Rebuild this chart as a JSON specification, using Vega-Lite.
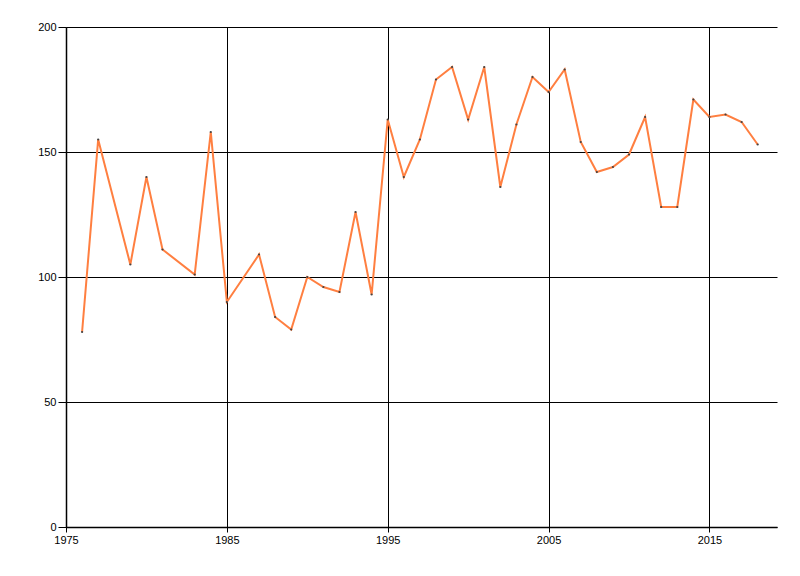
{
  "$schema": "https://vega.github.io/schema/vega-lite/v6.json",
  "width": 711,
  "height": 500,
  "autosize": "none",
  "padding": {"left": 66, "top": 27, "right": 23, "bottom": 49},
  "background": "white",
  "config": {"view": {"stroke": null}},
  "data": {"values": [
    {"year": 1976, "value": 78},
    {"year": 1977, "value": 155},
    {"year": 1979, "value": 105},
    {"year": 1980, "value": 140},
    {"year": 1981, "value": 111},
    {"year": 1983, "value": 101},
    {"year": 1984, "value": 158},
    {"year": 1985, "value": 90},
    {"year": 1987, "value": 109},
    {"year": 1988, "value": 84},
    {"year": 1989, "value": 79},
    {"year": 1990, "value": 100},
    {"year": 1991, "value": 96},
    {"year": 1992, "value": 94},
    {"year": 1993, "value": 126},
    {"year": 1994, "value": 93},
    {"year": 1995, "value": 163},
    {"year": 1996, "value": 140},
    {"year": 1997, "value": 155},
    {"year": 1998, "value": 179},
    {"year": 1999, "value": 184},
    {"year": 2000, "value": 163},
    {"year": 2001, "value": 184},
    {"year": 2002, "value": 136},
    {"year": 2003, "value": 161},
    {"year": 2004, "value": 180},
    {"year": 2005, "value": 174},
    {"year": 2006, "value": 183},
    {"year": 2007, "value": 154},
    {"year": 2008, "value": 142},
    {"year": 2009, "value": 144},
    {"year": 2010, "value": 149},
    {"year": 2011, "value": 164},
    {"year": 2012, "value": 128},
    {"year": 2013, "value": 128},
    {"year": 2014, "value": 171},
    {"year": 2015, "value": 164},
    {"year": 2016, "value": 165},
    {"year": 2017, "value": 162},
    {"year": 2018, "value": 153}
  ]},
  "encoding": {
    "x": {
      "field": "year", "type": "quantitative",
      "scale": {"domain": [1975, 2019.2], "nice": false, "zero": false},
      "axis": {
        "title": null, "values": [1975, 1985, 1995, 2005, 2015], "format": "d",
        "grid": true, "gridColor": "black", "gridOpacity": 1, "gridWidth": 1,
        "domainColor": "black", "domainWidth": 1.5,
        "tickColor": "black", "tickSize": 5,
        "labelColor": "black", "labelFont": "Liberation Sans", "labelFontSize": 11,
        "labelPadding": 2, "labelFlush": false
      }
    },
    "y": {
      "field": "value", "type": "quantitative",
      "scale": {"domain": [0, 200], "nice": false},
      "axis": {
        "title": null, "values": [0, 50, 100, 150, 200],
        "grid": true, "gridColor": "black", "gridOpacity": 1, "gridWidth": 1,
        "domainColor": "black", "domainWidth": 1.5,
        "tickColor": "black", "tickSize": 8,
        "labelColor": "black", "labelFont": "Liberation Sans", "labelFontSize": 11,
        "labelPadding": 2
      }
    }
  },
  "layer": [
    {"mark": {"type": "line", "color": "#ff7f40", "strokeWidth": 2}},
    {"mark": {"type": "point", "filled": true, "color": "#444444", "size": 5, "opacity": 1}}
  ]
}
